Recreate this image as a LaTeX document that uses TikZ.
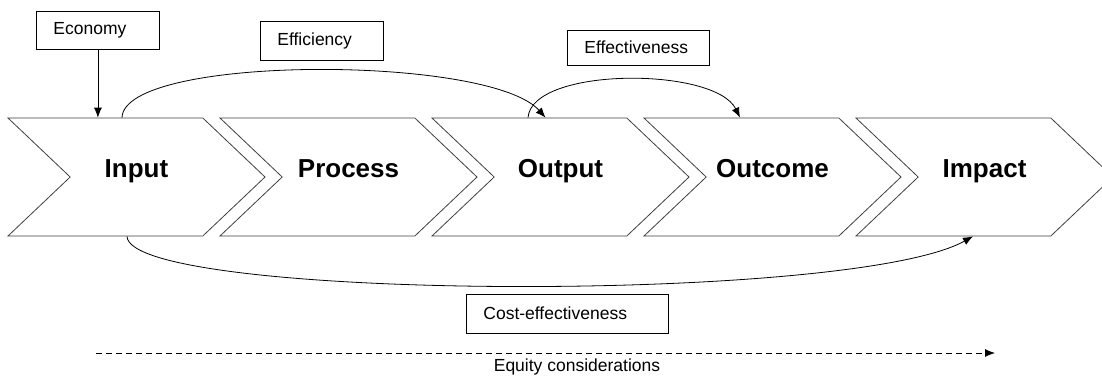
\documentclass[tikz,border=0pt]{standalone}
\usepackage{fontspec}
\setmainfont{Liberation Sans}
\usetikzlibrary{shapes.symbols,arrows.meta}

\tikzset{
    chevron/.style={shape=signal, signal from=west, signal to=east, signal pointer angle=87,
        draw=black!75, line width=0.8pt, minimum width=257pt, minimum height=118pt,
        inner sep=0pt, text height=12pt, text depth=12pt,
        font=\fontsize{26}{26}\selectfont\bfseries},
    tag/.style={draw=black, line width=0.8pt, anchor=west, inner xsep=17pt, inner ysep=0pt,
        align=left, font=\fontsize{17.5}{20}\selectfont},
    link/.style={black, line width=0.8pt, -{Latex[length=10pt,width=8pt]}}
}

\begin{document}
\begin{tikzpicture}[x=1pt, y=-1pt]
            \clip (0,0) rectangle (1102,376);
            \fill[white] (0,0) rectangle (1102,376);

            % the chain
            \node[chevron] (input)   at (136.5,177) {Input};
            \node[chevron] (process) at (348.5,177) {Process};
            \node[chevron] (output)  at (560.5,177) {Output};
            \node[chevron] (outcome) at (772.5,177) {Outcome};
            \node[chevron] (impact)  at (984.5,177) {Impact};

            % boxes
            \node[tag, text width=89pt, minimum height=38pt]  (economy)       at (36,30)    {Economy};
            \node[tag, text width=89pt, minimum height=39pt]  (efficiency)    at (260,40.5) {Efficiency};
            \node[tag, text width=108pt, minimum height=35pt] (effectiveness) at (567,47.5) {Effectiveness};
            \node[tag, text width=168pt, minimum height=39pt] (costeff)       at (466,313.5) {Cost-effectiveness};

            % arrows
            \draw[link] (economy.south) -- (economy.south |- input.north);
            \draw[link] ([xshift=-14.5pt]input.north) .. controls +(2,-63) and +(-56,-63) .. ([xshift=-15pt]output.north);
            \draw[link] ([xshift=-32.5pt]output.north) .. controls +(4,-51) and +(-25,-51) .. ([xshift=-32.5pt]outcome.north);
            \draw[link] ([xshift=-9.5pt]input.south) .. controls +(3,64) and +(-123,68) .. ([xshift=-11.5pt]impact.south);

            % equity
            \coordinate (eqstart) at (96,353);
            \coordinate (eqend) at (995,353);
            \draw[link, dash pattern=on 6pt off 4pt] (eqstart) -- (eqend);
            \node[font=\fontsize{17.5}{20}\selectfont] (equity) at (577,367) {Equity considerations};
        \end{tikzpicture}
\end{document}
